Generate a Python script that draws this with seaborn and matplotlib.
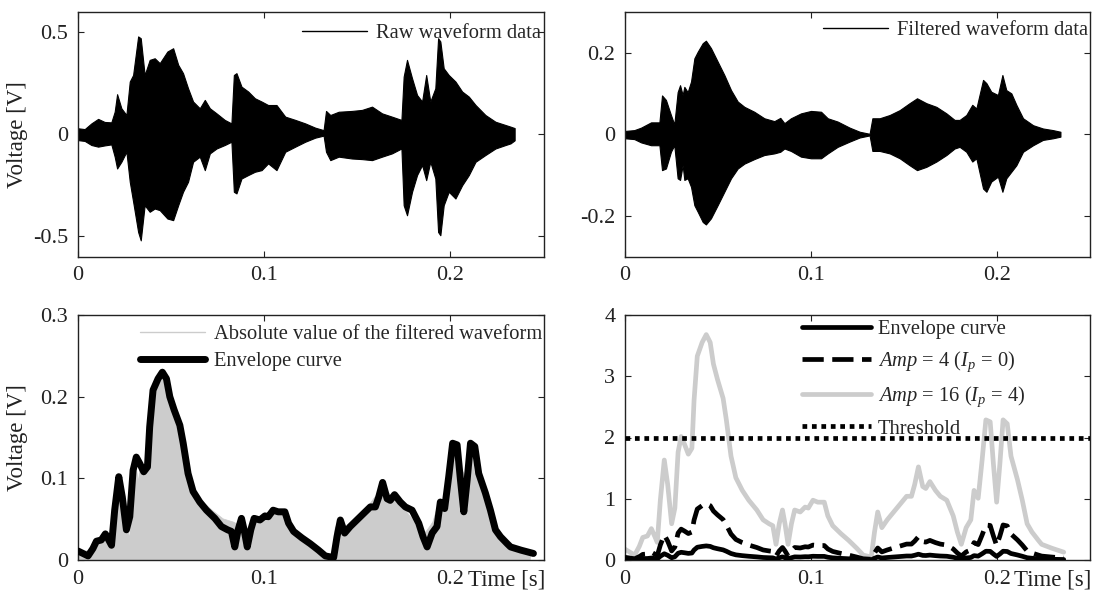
import matplotlib
matplotlib.use("Agg")
import matplotlib.pyplot as plt
from matplotlib.lines import Line2D
import numpy as np
import seaborn as sns

# ---------------------------------------------------------------- data
# Raw waveform: upper / lower extent of the densely oscillating signal
raw_t = [0, 0.0036, 0.0072, 0.0108, 0.0143, 0.0179, 0.0197, 0.021, 0.0233, 0.026, 0.0278, 0.0296,
         0.0323, 0.0337, 0.0358, 0.0385, 0.0412, 0.0439, 0.048, 0.0511, 0.0538, 0.0564, 0.0591, 0.0618,
         0.0654, 0.0681, 0.0708, 0.0744, 0.0788, 0.0824, 0.0837, 0.0851, 0.0878, 0.0914, 0.095, 0.0986,
         0.1021, 0.1066, 0.1113, 0.1167, 0.122, 0.1274, 0.1319, 0.1332, 0.1355, 0.14, 0.1471, 0.1525,
         0.1579, 0.1633, 0.1686, 0.1737, 0.1749, 0.1767, 0.1794, 0.1821, 0.1848, 0.187, 0.1892, 0.1919,
         0.1934, 0.1946, 0.1964, 0.1991, 0.2027, 0.2063, 0.2099, 0.2135, 0.2188, 0.2242, 0.2296, 0.2323,
         0.2345]
raw_upper = [0.029, 0.025, 0.053, 0.075, 0.06, 0.058, 0.11, 0.196, 0.127, 0.094, 0.258, 0.29,
             0.479, 0.47, 0.29, 0.364, 0.372, 0.348, 0.405, 0.421, 0.34, 0.299, 0.225, 0.16,
             0.127, 0.168, 0.127, 0.102, 0.07, 0.053, 0.29, 0.299, 0.233, 0.209, 0.176, 0.16,
             0.143, 0.143, 0.086, 0.07, 0.053, 0.032, 0.02, 0.114, 0.094, 0.11, 0.114, 0.119,
             0.135, 0.102, 0.086, 0.07, 0.282, 0.364, 0.274, 0.192, 0.16, 0.29, 0.16, 0.225,
             0.47, 0.454, 0.323, 0.29, 0.258, 0.209, 0.184, 0.143, 0.094, 0.061, 0.045, 0.037,
             0.03]
raw_lower = [-0.029, -0.033, -0.053, -0.061, -0.055, -0.05, -0.11, -0.168, -0.135, -0.086, -0.233, -0.33,
             -0.479, -0.52, -0.348, -0.38, -0.364, -0.372, -0.413, -0.421, -0.348, -0.282, -0.233, -0.135,
             -0.11, -0.176, -0.094, -0.07, -0.053, -0.037, -0.282, -0.29, -0.217, -0.2, -0.184, -0.176,
             -0.143, -0.176, -0.086, -0.061, -0.037, -0.017, -0.007, -0.086, -0.127, -0.11, -0.119, -0.122,
             -0.127, -0.11, -0.094, -0.07, -0.348, -0.397, -0.282, -0.2, -0.151, -0.225, -0.135, -0.217,
             -0.479, -0.495, -0.348, -0.282, -0.315, -0.25, -0.2, -0.135, -0.102, -0.07, -0.053, -0.045,
             -0.03]

# Band-pass filtered waveform: upper / lower extent
filt_t = [0, 0.005, 0.0086, 0.014, 0.0185, 0.0199, 0.022, 0.0247, 0.0265, 0.0283, 0.0296, 0.031,
          0.0319, 0.0337, 0.0355, 0.0373, 0.0391, 0.0418, 0.0435, 0.0462, 0.0498, 0.0534, 0.057, 0.0606,
          0.0642, 0.0695, 0.0749, 0.0803, 0.0835, 0.0857, 0.0892, 0.0946, 0.1, 0.1054, 0.109, 0.1143,
          0.1208, 0.1262, 0.1315, 0.133, 0.1369, 0.1423, 0.1477, 0.153, 0.157, 0.162, 0.1674, 0.1728,
          0.1772, 0.1799, 0.1835, 0.1867, 0.1889, 0.1925, 0.1943, 0.1969, 0.2005, 0.2029, 0.205, 0.2077,
          0.2104, 0.214, 0.2194, 0.2247, 0.2301, 0.2341]
filt_upper = [0.008, 0.01, 0.016, 0.029, 0.029, 0.095, 0.084, 0.047, 0.024, 0.103, 0.12, 0.096,
              0.116, 0.103, 0.129, 0.186, 0.202, 0.223, 0.229, 0.211, 0.178, 0.145, 0.108, 0.08,
              0.067, 0.055, 0.039, 0.032, 0.04, 0.027, 0.039, 0.051, 0.057, 0.055, 0.039, 0.031,
              0.016, 0.006, 0.001, 0.039, 0.039, 0.047, 0.059, 0.076, 0.088, 0.076, 0.067, 0.051,
              0.035, 0.035, 0.047, 0.072, 0.063, 0.133, 0.125, 0.104, 0.096, 0.145, 0.108, 0.1,
              0.072, 0.039, 0.022, 0.014, 0.01, 0.006]
filt_lower = [-0.01, -0.012, -0.02, -0.027, -0.027, -0.088, -0.084, -0.043, -0.027, -0.108, -0.112, -0.076,
              -0.112, -0.108, -0.129, -0.174, -0.19, -0.215, -0.221, -0.206, -0.174, -0.141, -0.108, -0.084,
              -0.072, -0.061, -0.051, -0.047, -0.043, -0.035, -0.041, -0.055, -0.059, -0.059, -0.047, -0.031,
              -0.018, -0.008, -0.003, -0.041, -0.041, -0.047, -0.059, -0.076, -0.088, -0.08, -0.067, -0.051,
              -0.035, -0.031, -0.043, -0.067, -0.059, -0.133, -0.141, -0.116, -0.104, -0.141, -0.108, -0.092,
              -0.076, -0.043, -0.027, -0.014, -0.01, -0.006]

# Envelope curve (time base of the envelope detector)
env_t = [0, 0.0027, 0.0054, 0.008, 0.0099, 0.0125, 0.0147, 0.0165, 0.018, 0.0197,
         0.0219, 0.0238, 0.026, 0.0278, 0.0296, 0.0313, 0.0332, 0.0353, 0.0373, 0.0385,
         0.0403, 0.043, 0.0453, 0.0475, 0.0493, 0.0516, 0.0547, 0.0565, 0.0591, 0.0618,
         0.0654, 0.069, 0.0735, 0.077, 0.0803, 0.0824, 0.0842, 0.086, 0.0878, 0.0892,
         0.0909, 0.0928, 0.0946, 0.0977, 0.1004, 0.1022, 0.1048, 0.1075, 0.1111, 0.1131,
         0.1158, 0.1203, 0.1247, 0.1292, 0.1328, 0.1373, 0.1391, 0.1409, 0.1432, 0.1462,
         0.1498, 0.1534, 0.157, 0.1597, 0.1615, 0.1636, 0.166, 0.1677, 0.17, 0.1731,
         0.1758, 0.1794, 0.183, 0.1853, 0.1875, 0.1902, 0.1928, 0.1946, 0.1969, 0.1991,
         0.2012, 0.2036, 0.2054, 0.2072, 0.209, 0.2108, 0.2131, 0.2152, 0.2188, 0.2215,
         0.2242, 0.2269, 0.2305, 0.2323, 0.238, 0.2446]
env_v = [0.011, 0.008, 0.005, 0.014, 0.023, 0.0245, 0.032, 0.0245, 0.018, 0.061,
         0.102, 0.077, 0.037, 0.053, 0.110, 0.126, 0.118, 0.108, 0.114, 0.163,
         0.208, 0.222, 0.230, 0.222, 0.200, 0.184, 0.165, 0.143, 0.106, 0.084,
         0.071, 0.061, 0.051, 0.041, 0.037, 0.035, 0.016, 0.037, 0.051, 0.037,
         0.016, 0.037, 0.051, 0.049, 0.054, 0.053, 0.061, 0.059, 0.059, 0.045,
         0.035, 0.027, 0.020, 0.012, 0.005, 0.003, 0.0285, 0.049, 0.033, 0.041,
         0.049, 0.057, 0.065, 0.065, 0.077, 0.095, 0.075, 0.073, 0.080, 0.071,
         0.065, 0.061, 0.045, 0.0285, 0.016, 0.033, 0.041, 0.071, 0.063, 0.102,
         0.143, 0.141, 0.098, 0.059, 0.098, 0.143, 0.139, 0.106, 0.082, 0.061,
         0.037, 0.0285, 0.020, 0.016, 0.012, 0.008]

# Ratio between the envelope-detector time base and the acquisition clock
clock_ratio = 1.037

# Amplifier gains and comparator threshold
gain_low = 4       # Amp = 4  (I_p = 0)
gain_high = 16     # Amp = 16 (I_p = 4)
threshold = 2.0

x_ticks = [0, 0.1, 0.2]
x_ticklabels = ["0", "0.1", "0.2"]

# ---------------------------------------------------------------- style
sns.set_theme(style="ticks")
plt.rcParams.update({
    "font.family": ["Liberation Serif", "DejaVu Serif"],
    "mathtext.fontset": "custom",
    "mathtext.rm": "Liberation Serif",
    "mathtext.it": "Liberation Serif:italic",
    "mathtext.bf": "Liberation Serif:bold",
    "axes.unicode_minus": False,
    "axes.edgecolor": "#222222",
    "axes.linewidth": 1.0,
    "axes.facecolor": "white",
    "figure.facecolor": "white",
})

FS_TICK = 16
FS_LEG = 14.8
LIGHT = "#cccccc"

fig = plt.figure(figsize=(11, 5.94), dpi=100)
W, H = 1100, 594


def add_axes(left, top, right, bottom):
    return fig.add_axes([left / W, 1 - bottom / H, (right - left) / W, (bottom - top) / H])


ax1 = add_axes(78, 11.7, 543.5, 256.7)
ax2 = add_axes(625, 11.7, 1090, 256.7)
ax3 = add_axes(78, 315, 543.5, 560)
ax4 = add_axes(625, 315, 1090, 560)

X_PAD = 7


def style_axes(ax, ylim, yticks, yticklabels):
    ax.set_xlim(0, 0.25)
    ax.set_ylim(*ylim)
    ax.set_xticks(x_ticks)
    ax.set_xticklabels(x_ticklabels)
    ax.set_yticks(yticks)
    ax.set_yticklabels(yticklabels)
    ax.tick_params(direction="in", top=True, right=True, length=4.3, width=0.8,
                   labelsize=FS_TICK, colors="#222222")
    ax.tick_params(axis="x", pad=X_PAD)
    ax.tick_params(axis="y", pad=7)
    for s in ax.spines.values():
        s.set_visible(True)
    ax.set_xlabel("")
    ax.set_ylabel("")


# ---- raw waveform
ax1.fill_between(raw_t, raw_lower, raw_upper, color="black", linewidth=0.8, edgecolor="black")
style_axes(ax1, (-0.6, 0.6), [-0.5, 0, 0.5], ["-0.5", "0", "0.5"])
ax1.legend([Line2D([], [], color="black", lw=1)], ["Raw waveform data"],
           loc="upper left", bbox_to_anchor=(0.4806, 0.95), frameon=False,
           fontsize=FS_LEG, handlelength=3.2, handletextpad=0.4,
           borderpad=0, borderaxespad=0)

# ---- filtered waveform
ax2.fill_between(filt_t, filt_lower, filt_upper, color="black", linewidth=0.8, edgecolor="black")
style_axes(ax2, (-0.3, 0.3), [-0.2, 0, 0.2], ["-0.2", "0", "0.2"])
ax2.legend([Line2D([], [], color="black", lw=1)], ["Filtered waveform data"],
           loc="upper left", bbox_to_anchor=(0.425, 0.964), frameon=False,
           fontsize=FS_LEG, handlelength=3.2, handletextpad=0.4,
           borderpad=0, borderaxespad=0)

# ---- rectified waveform and envelope
filt_abs = np.maximum(np.abs(filt_upper), np.abs(filt_lower))
ax3.fill_between(np.asarray(filt_t) * clock_ratio, 0, filt_abs, color=LIGHT, linewidth=0.5,
                 edgecolor=LIGHT, zorder=1)
sns.lineplot(x=env_t, y=env_v, ax=ax3, color="black", linewidth=5, estimator=None, sort=False,
             solid_joinstyle="round", solid_capstyle="round", zorder=3)
style_axes(ax3, (0, 0.3), [0, 0.1, 0.2, 0.3], ["0", "0.1", "0.2", "0.3"])
ax3.legend([Line2D([], [], color=LIGHT, lw=1), Line2D([], [], color="black", lw=5)],
           ["Absolute value of the filtered waveform", "Envelope curve"],
           loc="upper left", bbox_to_anchor=(0.1325, 0.96), frameon=False,
           fontsize=FS_LEG, handlelength=3.2, handletextpad=0.4, labelspacing=0.35,
           borderpad=0, borderaxespad=0)

# ---- amplified envelopes vs threshold
t_acq = np.asarray(env_t) / clock_ratio
env_arr = np.asarray(env_v)
sns.lineplot(x=t_acq, y=env_arr * gain_high, ax=ax4, color=LIGHT, linewidth=3.4,
             estimator=None, sort=False, solid_joinstyle="round", zorder=2)
sns.lineplot(x=t_acq, y=env_arr * gain_low, ax=ax4, color="black", linewidth=3.4,
             estimator=None, sort=False, linestyle=(0, (4.5, 1.8)), zorder=3)
sns.lineplot(x=t_acq, y=env_arr, ax=ax4, color="black", linewidth=3.4,
             estimator=None, sort=False, solid_joinstyle="round", zorder=4)
ax4.axhline(threshold, color="black", linewidth=3.4, linestyle=(0, (1, 1)),
            dash_capstyle="butt", zorder=5)
style_axes(ax4, (0, 4), [0, 1, 2, 3, 4], ["0", "1", "2", "3", "4"])
ax4.legend([Line2D([], [], color="black", lw=3.4),
            Line2D([], [], color="black", lw=3.4, ls=(0, (4.5, 1.8))),
            Line2D([], [], color=LIGHT, lw=3.4),
            Line2D([], [], color="black", lw=3.4, ls=(0, (1, 1)), dash_capstyle="butt")],
           ["Envelope curve",
            r"$\mathit{Amp}$ = 4 ($I_p$ = 0)",
            r"$\mathit{Amp}$ = 16 ($I_p$ = 4)",
            "Threshold"],
           loc="upper left", bbox_to_anchor=(0.3817, 0.98), frameon=False,
           fontsize=FS_LEG, handlelength=3.35, handletextpad=0.3, labelspacing=0.5,
           borderpad=0, borderaxespad=0)

# ---- axis labels
for ax in (ax3, ax4):
    ax.annotate("Time [s]", xy=(1, 0), xycoords="axes fraction", xytext=(1, -X_PAD),
                textcoords="offset points", ha="right", va="top", fontsize=FS_TICK + 0.5,
                color="#222222")
for ax in (ax1, ax3):
    pos = ax.get_position()
    fig.text(18 / W, pos.y0 + pos.height / 2, "Voltage [V]", rotation=90, ha="center",
             va="center", fontsize=FS_TICK + 0.5, color="#222222")

fig.savefig("out.png", dpi=100)
